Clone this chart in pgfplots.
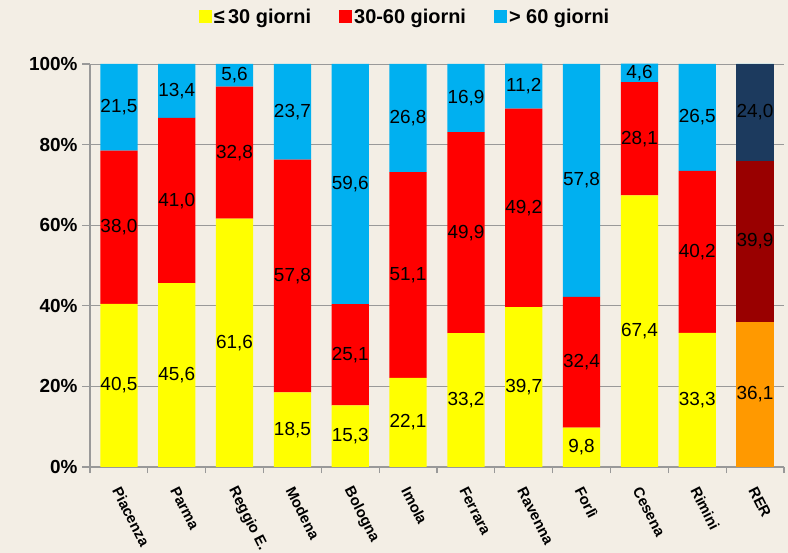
\documentclass[border=0pt]{standalone}
\usepackage{pgfplots}
\usepackage{pgfplotstable}
\pgfplotsset{compat=1.18}
\usepackage{fontspec}
\setmainfont{Liberation Sans}
\definecolor{cYel}{HTML}{FFFF00}
\definecolor{cRed}{HTML}{FF0000}
\definecolor{cBlue}{HTML}{00B0F0}
\definecolor{cOra}{HTML}{FF9900}
\definecolor{cDRed}{HTML}{990000}
\definecolor{cNavy}{HTML}{1C3A5E}
\definecolor{bgc}{HTML}{F3EEE5}
\definecolor{gridc}{HTML}{999999}

\pgfplotstableread{
x a b c
0 40.5 38.0 21.5
1 45.6 41.0 13.4
2 61.6 32.8 5.6
3 18.5 57.8 23.7
4 15.3 25.1 59.6
5 22.1 51.1 26.8
6 33.2 49.9 16.9
7 39.7 49.2 11.2
8 9.8 32.4 57.8
9 67.4 28.1 4.6
10 33.3 40.2 26.5
11 36.1 39.9 24.0
}\data

\pgfplotsset{
  base/.style={
    scale only axis, width=694bp, height=403bp,
    at={(90bp,86bp)}, anchor=south west,
    xmin=-0.5, xmax=11.5, ymin=0, ymax=100,
  }
}
\begin{document}
\begin{tikzpicture}
\fill[bgc] (0,0) rectangle (788bp,553bp);
\path[use as bounding box] (0,0) rectangle (788bp,553bp);
\begin{axis}[base, ybar stacked, bar width=0.645,
  axis x line*=bottom, axis y line*=left,
  axis line style={gridc, line width=1.2bp, -},
  ymajorgrids, grid style={gridc, line width=0.9bp},
  tick align=outside,
  ytick={0,20,...,100},
  yticklabel={\pgfmathprintnumber{\tick}\%},
  /pgf/number format/assume math mode=true,
  yticklabel style={font=\bfseries\fontsize{19}{19}\selectfont, xshift=-1bp},
  major tick length=8bp, minor tick length=6bp,
  major y tick style={gridc, line width=1.2bp},
  major x tick style={draw=none},
  minor x tick style={gridc, line width=1.2bp},
  xtick={0,...,11},
  minor xtick={-0.5,0.5,...,11.5},
  xticklabels={Piacenza,Parma,Reggio E.,Modena,Bologna,Imola,Ferrara,Ravenna,Forlì,Cesena,Rimini,RER},
  xticklabel style={font=\bfseries\fontsize{15}{15}\selectfont, xshift=-4bp, yshift=-10bp, rotate=-63, anchor=west},
  legend columns=3,
  legend image code/.code={\fill[#1] (0bp,-6.5bp) rectangle (13bp,6.5bp);},
  legend style={draw=none, fill=none, font=\bfseries\fontsize{20}{20}\selectfont,
    at={(0.454,1.117)}, anchor=center,
    /tikz/every even column/.append style={column sep=26bp}},
]
\addplot[fill=cYel, draw=none] table[x=x, y=a]{\data};
\addlegendentry{≤\,30 giorni}
\addplot[fill=cRed, draw=none] table[x=x, y=b]{\data};
\addlegendentry{30-60 giorni}
\addplot[fill=cBlue, draw=none] table[x=x, y=c]{\data};
\addlegendentry{> 60 giorni}
\end{axis}
\begin{axis}[base, ybar stacked, bar width=0.645, hide axis]
\addplot[fill=cOra, draw=none] coordinates {(11,36.1)};
\addplot[fill=cDRed, draw=none] coordinates {(11,39.9)};
\addplot[fill=cNavy, draw=none] coordinates {(11,24.0)};
\end{axis}
\begin{axis}[base, hide axis, clip=false,
  point meta=explicit,
  nodes near coords={\pgfmathprintnumber[use comma,fixed,fixed zerofill,precision=1,assume math mode=true]{\pgfplotspointmeta}},
  every node near coord/.append style={anchor=center, font=\fontsize{19}{19}\selectfont, text=black, inner sep=0pt},
]
\addplot[draw=none, mark=none] table[x=x, y expr=\thisrow{a}/2, meta=a]{\data};
\addplot[draw=none, mark=none] table[x=x, y expr=\thisrow{a}+\thisrow{b}/2, meta=b]{\data};
\addplot[draw=none, mark=none] table[x=x, y expr=\thisrow{a}+\thisrow{b}+\thisrow{c}/2, meta=c]{\data};
\end{axis}
\end{tikzpicture}
\end{document}
